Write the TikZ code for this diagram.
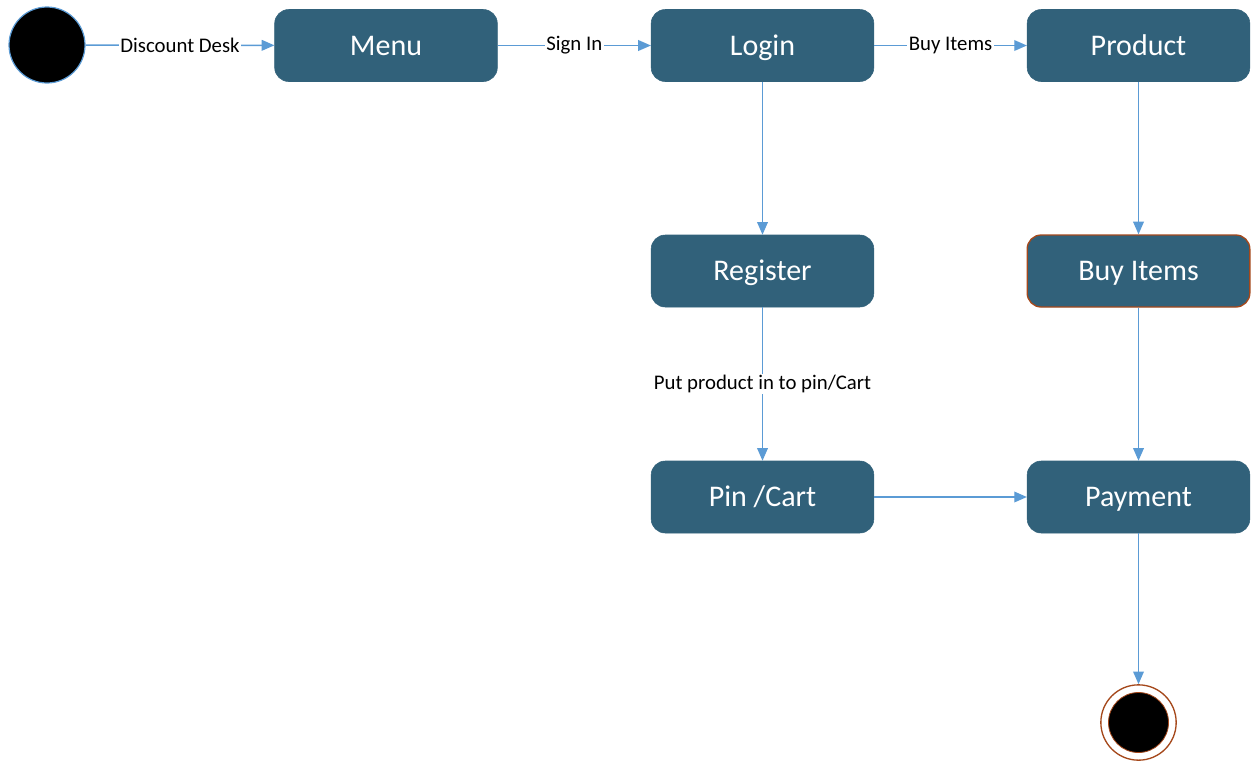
\documentclass[tikz,border=0pt]{standalone}
\usepackage{fontspec}
\setmainfont{Carlito}
\usetikzlibrary{arrows.meta}
\definecolor{statefill}{HTML}{31617A}
\definecolor{flowline}{HTML}{5B9BD5}
\definecolor{rust}{HTML}{A5481B}
\begin{document}
\begin{tikzpicture}[x=0.75pt,y=-0.75pt,
  state/.style={draw=statefill,fill=statefill,rounded corners=10.5pt,
    minimum width=167pt,minimum height=54pt,inner sep=0pt,
    text height=14.5pt,text depth=0pt,
    text=white,font=\fontsize{22.5}{26}\selectfont},
  flow/.style={draw=flowline,line width=1.1pt,-{Triangle[length=9.5pt,width=8pt]}},
  lbl/.style={fill=white,inner sep=1pt,text=black,font=\fontsize{15.6}{18}\selectfont}]
\useasboundingbox (0,0) rectangle (1251,761);
% initial and final pseudo-states
\node[circle,fill=black,draw=flowline,line width=0.9pt,minimum size=57pt,inner sep=0pt] (start) at (47,45) {};
\node[circle,fill=white,draw=rust,line width=1pt,minimum size=56.5pt,inner sep=0pt] (stop) at (1138.5,722.5) {};
\node[circle,fill=black,draw=rust,line width=0.6pt,minimum size=45pt,inner sep=0pt] at (stop) {};
% states
\node[state] (menu) at (386,45.5) {Menu};
\node[state] (login) at (762.5,45.5) {Login};
\node[state] (product) at (1138.5,45.5) {Product};
\node[state] (register) at (762.5,271) {Register};
\node[state,draw=rust,line width=1pt] (buy) at (1138.5,271) {Buy Items};
\node[state] (cart) at (762.5,497) {Pin /Cart};
\node[state] (payment) at (1138.5,497) {Payment};
% transitions
\draw[flow] (start) -- node[lbl] {Discount Desk} (menu);
\draw[flow] (menu) -- node[lbl] {Sign In} (login);
\draw[flow] (login) -- node[lbl] {Buy Items} (product);
\draw[flow] (login) -- (register);
\draw[flow] (product) -- (buy);
\draw[flow] (register) -- node[lbl] {Put product in to pin/Cart} (cart);
\draw[flow] (buy) -- (payment);
\draw[flow] (cart) -- (payment);
\draw[flow] (payment) -- (stop);
\end{tikzpicture}
\end{document}
